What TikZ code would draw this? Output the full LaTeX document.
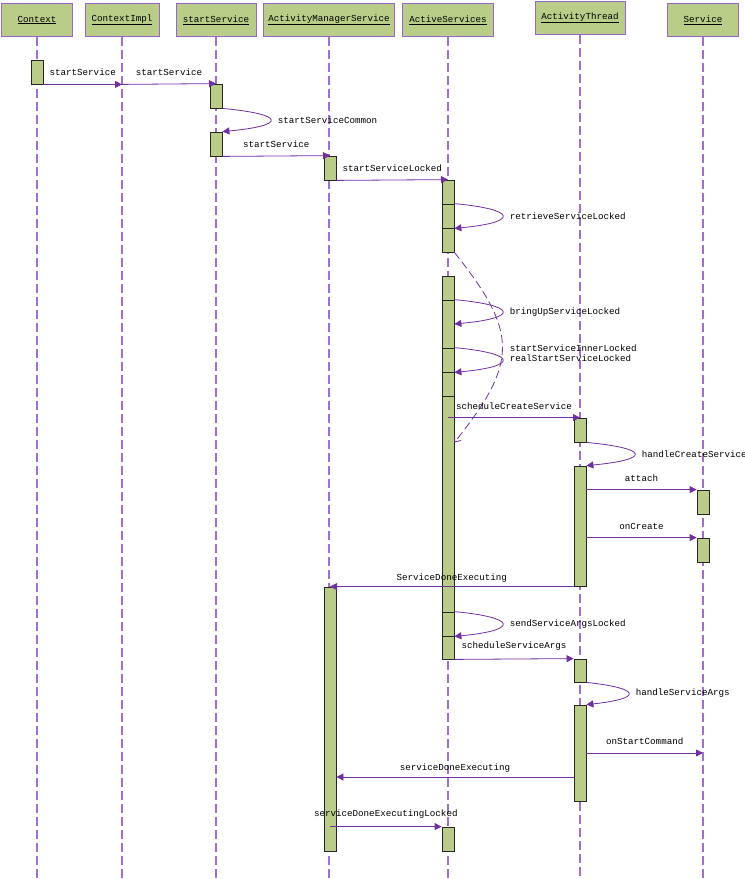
\documentclass[tikz,border=0pt]{standalone}
\usepackage{fontspec}
\setmonofont{Liberation Mono}
\usepackage{tikz}
\usetikzlibrary{arrows.meta}
\definecolor{actgreen}{HTML}{B9CD88}
\definecolor{headline}{HTML}{9966CC}
\definecolor{lifeline}{HTML}{A070D0}
\definecolor{msgline}{HTML}{7030A0}

\begin{document}
\begin{tikzpicture}[x=1pt, y=-1pt, line width=0.8pt,
  head/.style={draw=headline, fill=actgreen, minimum height=33pt, inner sep=0pt,
    font=\ttfamily\fontsize{9.2}{10}\selectfont},
  life/.style={draw=lifeline, line width=1.2pt, dash pattern=on 9pt off 4pt},
  act/.style={draw=black!85, fill=actgreen, minimum width=12pt, inner sep=0pt},
  msg/.style={draw=msgline, -{Triangle[length=7pt, width=7pt]}},
  lbl/.style={font=\ttfamily\fontsize{9.2}{10.5}\selectfont, inner sep=1pt, text=black}]

  \useasboundingbox (0,0) rectangle (745,879);

  % -- the seven objects across the top, each with its dashed life line
  %    running down to the bottom edge
  \foreach \n/\x/\y/\w/\name in {hCtx/37/20/71/Context, hImpl/122/20/74/ContextImpl,
      hStart/216/20/80/startService, hAms/329/20/131/ActivityManagerService,
      hAs/448/20/91/ActiveServices, hAt/580/18/90/ActivityThread,
      hSrv/703/20/71/Service}{
    \node[head, minimum width=\w pt] (\n) at (\x,\y) {\underline{\name}};
    \draw[life] (\n.south) -- (\n.south |- 0,879);}

  % -- activation bars, given by name, x and their top and bottom edge;
  %    the long ActiveServices bar is stacked from several pieces
  \foreach \n/\x/\ya/\yb in {ctx1/37/60/84, st1/216/84/108, st2/216/132/156,
      ams1/330/156/180, as1a/448/180/204, as1b/448/204/228, as1c/448/228/252,
      as2a/448/276/300, as2b/448/300/348, as2c/448/348/372, as2d/448/372/396,
      as2e/448/396/612, as2f/448/612/636, as2g/448/636/659,
      at1/580/418/442, at2/580/466/586, srv1/703/490/514, srv2/703/538/562,
      ams2/330/587/851, at3/580/659/682, at4/580/705/801, as3/448/827/851}{
    \node[act, minimum height={(\yb-\ya)*1pt}] (\n) at (\x,{(\ya+\yb)/2}) {};}

  % free ends of some messages
  \coordinate (c1) at (ctx1.south east -| hImpl);
  \coordinate (retEnd) at (as2e.east |- at1.south);
  \coordinate (scs) at (hAs |- at1.north);
  \coordinate (sdeFrom) at ([yshift=-24pt]at4.west);

  % -- calls
  \draw[msg] (ctx1.south east) -- (c1) node[lbl, midway, above=7pt] {startService};
  \draw[msg] (c1) -- (st1.north) node[lbl, midway, above=7pt] {startService};
  \draw[msg] (st1.south east) .. controls +(64,6) and +(64,-6) .. (st2.north east)
    node[lbl, pos=0.5, right=6pt] {startServiceCommon};
  \draw[msg] (st2.south east) -- (ams1.north) node[lbl, midway, above=7pt] {startService};
  \draw[msg] (ams1.south east) -- (as1a.north)
    node[lbl, midway, above=7pt] {startServiceLocked};
  \draw[msg] (as1b.north east) .. controls +(64,6) and +(64,-6) .. (as1b.south east)
    node[lbl, pos=0.5, right=6pt] {retrieveServiceLocked};
  \draw[msg, dash pattern=on 8pt off 4pt, -{Straight Barb[length=5pt, width=8pt]}]
    (as1c.south east) .. controls +(64,80) and +(64,-80) .. (retEnd);
  \draw[msg] (as2b.north east) .. controls +(64,6) and +(64,-6) .. (as2b.east)
    node[lbl, pos=0.5, right=6pt] {bringUpServiceLocked};
  \draw[msg] (as2c.north east) .. controls +(64,6) and +(64,-6) .. (as2c.south east)
    node[lbl, pos=0.5, right=6pt, yshift=7pt, align=left]
      {startServiceInnerLocked\\realStartServiceLocked};
  \draw[msg] (scs) -- (at1.north) node[lbl, midway, above=7pt] {scheduleCreateService};
  \draw[msg] (at1.south east) .. controls +(64,6) and +(64,-6) .. (at2.north east)
    node[lbl, pos=0.5, right=6pt] {handleCreateService};
  \draw[msg] (at2.east |- srv1.north) -- (srv1.north west)
    node[lbl, midway, above=7pt] {attach};
  \draw[msg] (at2.east |- srv2.north) -- (srv2.north west)
    node[lbl, midway, above=7pt] {onCreate};
  \draw[msg] (at2.south west) -- (ams2.north)
    node[lbl, midway, above=3pt] {ServiceDoneExecuting};
  \draw[msg] (as2f.north east) .. controls +(64,6) and +(64,-6) .. (as2f.south east)
    node[lbl, pos=0.5, right=6pt] {sendServiceArgsLocked};
  \draw[msg] (as2g.south east) -- (at3.north west)
    node[lbl, midway, above=7pt] {scheduleServiceArgs};
  \draw[msg] (at3.south east) .. controls +(56,6) and +(56,-6) .. (at4.north east)
    node[lbl, pos=0.5, right=6pt] {handleServiceArgs};
  \draw[msg] (at4.east) -- (at4.east -| hSrv)
    node[lbl, midway, above=7pt] {onStartCommand};
  \draw[msg] (sdeFrom) -- (sdeFrom -| ams2.east)
    node[lbl, midway, above=3pt] {serviceDoneExecuting};
  \draw[msg] (as3.north -| ams2.north) -- (as3.north west)
    node[lbl, midway, above=7pt] {serviceDoneExecutingLocked};

\end{tikzpicture}
\end{document}
